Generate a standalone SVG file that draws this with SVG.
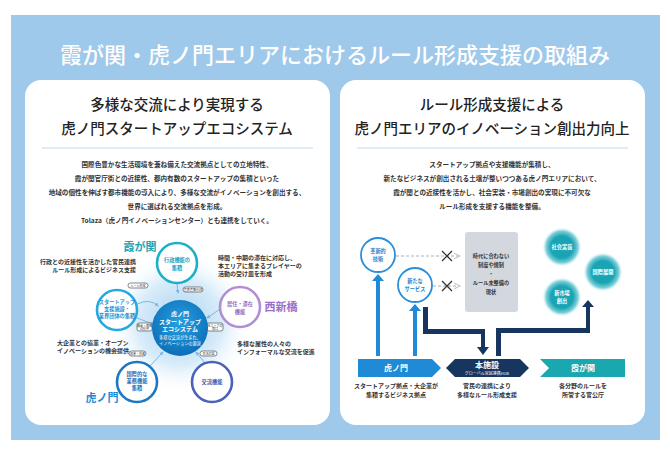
<svg xmlns="http://www.w3.org/2000/svg" width="670" height="450" viewBox="0 0 670 450">
<defs>
<style>
text{font-family:"Noto Sans CJK JP","Noto Sans",sans-serif;}
.sub{font-size:14.5px;fill:#222;text-anchor:middle;font-weight:500}
.body{font-size:6.6px;fill:#333;text-anchor:middle;font-weight:700}
.sm{font-size:6px;fill:#333;font-weight:700}
.tag{fill:#fff;stroke:#555;stroke-width:0.7}
.tt{font-size:3px;fill:#333;text-anchor:middle}
.ct{font-size:6px;text-anchor:middle;font-weight:700}
.st{font-size:5.2px;text-anchor:middle;font-weight:700}
.sat{fill:#fff;stroke-width:2.6}
</style>
<radialGradient id="glow" cx="0.5" cy="0.5" r="0.5">
<stop offset="0" stop-color="#a9d3f0"/><stop offset="0.6" stop-color="#d9ecfa"/><stop offset="1" stop-color="#fff" stop-opacity="0"/>
</radialGradient>
<radialGradient id="teal" cx="0.5" cy="0.5" r="0.5">
<stop offset="0" stop-color="#1aa6b5"/><stop offset="0.55" stop-color="#19a3b3"/><stop offset="0.8" stop-color="#7fd0da"/><stop offset="1" stop-color="#fff" stop-opacity="0"/>
</radialGradient>
<radialGradient id="cen" cx="0.5" cy="0.4" r="0.6">
<stop offset="0" stop-color="#2a9fe0"/><stop offset="1" stop-color="#0a6fb8"/>
</radialGradient>
<marker id="ah" viewBox="0 0 10 10" refX="8" refY="5" markerWidth="4" markerHeight="4" orient="auto"><path d="M0,0L10,5L0,10z" fill="#7ab8e6"/></marker>
<marker id="ahg" viewBox="0 0 10 10" refX="8" refY="5" markerWidth="5" markerHeight="5" orient="auto"><path d="M0,1L8,5L0,9" fill="none" stroke="#c8ccd2" stroke-width="1.5"/></marker>
</defs>
<rect x="11" y="15" width="649" height="425" fill="#9fc9ea"/>
<text x="335" y="63" font-size="22" fill="#fff" text-anchor="middle" font-weight="500">霞が関・虎ノ門エリアにおけるルール形成支援の取組み</text>
<rect x="25" y="80" width="305" height="345" rx="16" fill="#fff"/>
<rect x="340" y="80" width="305" height="345" rx="16" fill="#fff"/>
<g id="left-head">
<text class="sub" x="177" y="110">多様な交流により実現する</text>
<text class="sub" x="177" y="134">虎ノ門スタートアップエコシステム</text>
<line x1="42" y1="148" x2="313" y2="148" stroke="#bcd9f0" stroke-width="1"/>
<text class="body" x="177" y="167">国際色豊かな生活環境を兼ね備えた交流拠点としての立地特性、</text>
<text class="body" x="177" y="181">霞が関官庁街との近接性、都内有数のスタートアップの集積といった</text>
<text class="body" x="177" y="195">地域の個性を伸ばす都市機能の導入により、多様な交流がイノベーションを創出する、</text>
<text class="body" x="177" y="209">世界に選ばれる交流拠点を形成。</text>
<text class="body" x="177" y="223">Tolaza（虎ノ門イノベーションセンター）とも連携をしていく。</text>
</g>
<g id="right-head">
<text class="sub" x="492" y="110">ルール形成支援による</text>
<text class="sub" x="492" y="134">虎ノ門エリアのイノベーション創出力向上</text>
<line x1="357" y1="148" x2="628" y2="148" stroke="#bcd9f0" stroke-width="1"/>
<text class="body" x="492" y="167">スタートアップ拠点や支援機能が集積し、</text>
<text class="body" x="492" y="181">新たなビジネスが創出される土壌が整いつつある虎ノ門エリアにおいて、</text>
<text class="body" x="492" y="195">霞が関との近接性を活かし、社会実装・市場創出の実現に不可欠な</text>
<text class="body" x="492" y="209">ルール形成を支援する機能を整備。</text>
</g>
<circle cx="180" cy="322" r="72" fill="url(#glow)"/>
<g id="left-connectors" stroke="#7ab8e6" stroke-width="1" fill="none" marker-end="url(#ah)">
<path d="M177,284L178,293"/>
<path d="M137,304Q150,298 158,306"/>
<path d="M137,318L153,324"/>
<path d="M220,309L207,318"/>
<path d="M150,366L163,352"/>
<path d="M205,363L196,352"/>
</g>
<g id="tags">
<rect class="tag" x="128" y="283" width="20" height="5" rx="2.5"/><text class="tt" x="138" y="286.6">ルール形成</text>
<rect class="tag" x="183" y="287" width="20" height="5" rx="2.5"/><text class="tt" x="193" y="290.6">官民連携HUB</text>
<rect class="tag" x="137" y="323" width="15" height="8" rx="2"/><text class="tt" x="144.5" y="326.5">資金・情報</text><text class="tt" x="144.5" y="329.5">の提供</text>
<rect class="tag" x="207" y="323" width="16" height="8" rx="2"/><text class="tt" x="215" y="326.5">本エリアの</text><text class="tt" x="215" y="329.5">窓口</text>
<rect class="tag" x="129" y="351" width="17" height="5" rx="2.5"/><text class="tt" x="137.5" y="354.6">協業・投資</text>
<rect class="tag" x="200" y="351" width="17" height="5" rx="2.5"/><text class="tt" x="208.5" y="354.6">交流の場</text>
</g>
<g id="center">
<circle cx="180" cy="328" r="28" fill="url(#cen)"/>
<text class="ct" x="180" y="316" fill="#fff">虎ノ門</text>
<text class="ct" x="180" y="323.5" fill="#fff">スタートアップ</text>
<text class="ct" x="180" y="331" fill="#fff">エコシステム</text>
<text x="180" y="339" font-size="4.2" fill="#fff" text-anchor="middle">多様な交流が生まれ、</text>
<text x="180" y="345" font-size="4.2" fill="#fff" text-anchor="middle">イノベーションの源泉</text>
</g>
<g id="n-gyosei"><circle class="sat" cx="177" cy="263" r="20" stroke="#1cb0c8"/><text class="st" x="177" y="262" fill="#1a9fc0">行政機能の</text><text class="st" x="177" y="270" fill="#1a9fc0">集積</text></g>
<g id="n-startup"><circle class="sat" cx="117" cy="310" r="20" stroke="#26a9e0"/><text class="st" x="117" y="304" fill="#1b8fd0">スタートアップ</text><text class="st" x="117" y="311" fill="#1b8fd0">支援施設・</text><text class="st" x="117" y="318" fill="#1b8fd0">業界団体の集積</text></g>
<g id="n-kyoju"><circle class="sat" cx="240" cy="307" r="20" stroke="#b08ed6"/><text class="st" x="240" y="306" fill="#8a6cc2">居住・滞在</text><text class="st" x="240" y="314" fill="#8a6cc2">機能</text></g>
<g id="n-kokusai"><circle class="sat" cx="137" cy="382" r="20" stroke="#1a78c4"/><text class="st" x="137" y="376" fill="#1a6fba">国際的な</text><text class="st" x="137" y="383" fill="#1a6fba">業務機能</text><text class="st" x="137" y="390" fill="#1a6fba">集積</text></g>
<g id="n-koryu"><circle class="sat" cx="212" cy="382" r="20" stroke="#4a62b8"/><text class="st" x="212" y="384" fill="#3c56ad">交流機能</text></g>
<text x="140" y="251" font-size="11" font-weight="700" fill="#1aa6b5" text-anchor="middle">霞が関</text>
<text x="281" y="311" font-size="11" font-weight="700" fill="#9b6fc9" text-anchor="middle">西新橋</text>
<text x="102" y="402" font-size="11" font-weight="700" fill="#1a8ad8" text-anchor="middle">虎ノ門</text>
<text class="sm" x="136" y="264" text-anchor="end">行政との近接性を活かした官民連携</text>
<text class="sm" x="136" y="272" text-anchor="end">ルール形成によるビジネス支援</text>
<text class="sm" x="218" y="260">時間・中期の滞在に対応し、</text>
<text class="sm" x="218" y="268">本エリアに集まるプレイヤーの</text>
<text class="sm" x="218" y="276">活動の受け皿を形成</text>
<text class="sm" x="57" y="345">大企業との協業・オープン</text>
<text class="sm" x="57" y="353">イノベーションの機会提供</text>
<text class="sm" x="237" y="346">多様な属性の人々の</text>
<text class="sm" x="237" y="354">インフォーマルな交流を促進</text>
<g id="right-connectors">
<line x1="396" y1="256" x2="460" y2="256" stroke="#c8ccd2" stroke-width="1.5" stroke-dasharray="3,2" marker-end="url(#ahg)"/>
<line x1="433" y1="286" x2="460" y2="286" stroke="#c8ccd2" stroke-width="1.5" stroke-dasharray="3,2" marker-end="url(#ahg)"/>
<path d="M442,251l10,10M452,251l-10,10M442,281l10,10M452,281l-10,10" stroke="#333" stroke-width="1.3"/>
<path d="M376,356V281h-4l6,-7 6,7h-4V356z" fill="#1f8ad6"/>
<path d="M413,356V311h-4l6,-7 6,7h-4V356z" fill="#1f8ad6"/>
<path d="M423,307V334H481V347h-4l6,8 6,-8h-4V329H428V307z" fill="#17365f"/>
<path d="M496,356V328H586V307h-4l6,-7 6,7h-4V333H501V356z" fill="#17365f"/>
</g>
<g id="r-kakushin"><circle cx="378" cy="255" r="17" fill="#fff" stroke="#2a8fd8" stroke-width="1.8"/><text class="st" x="378" y="253" fill="#1f7dc6">革新的</text><text class="st" x="378" y="261" fill="#1f7dc6">技術</text></g>
<g id="r-service"><circle cx="415" cy="285" r="17" fill="#fff" stroke="#2a8fd8" stroke-width="1.8"/><text class="st" x="415" y="283" fill="#1f7dc6">新たな</text><text class="st" x="415" y="291" fill="#1f7dc6">サービス</text></g>
<g id="r-box"><rect x="465" y="232" width="53" height="80" rx="3" fill="#d3d8de"/>
<text class="st" x="491" y="258" fill="#333">時代に合わない</text><text class="st" x="491" y="267" fill="#333">制度や規制</text><text class="st" x="491" y="276" fill="#333">・</text><text class="st" x="491" y="285" fill="#333">ルール未整備の</text><text class="st" x="491" y="294" fill="#333">現状</text></g>
<g id="r-shakai"><circle cx="562" cy="247" r="20" fill="url(#teal)"/><text class="st" x="562" y="249" fill="#fff">社会実装</text></g>
<g id="r-kokusai"><circle cx="603" cy="272" r="20" fill="url(#teal)"/><text class="st" x="603" y="274" fill="#fff">国際展開</text></g>
<g id="r-shijo"><circle cx="562" cy="297" r="20" fill="url(#teal)"/><text class="st" x="562" y="295" fill="#fff">新市場</text><text class="st" x="562" y="303" fill="#fff">創出</text></g>
<g id="b-toranomon"><path d="M358,359H432L441,368L432,377H358z" fill="#1f8ad6"/><text x="396" y="371" font-size="8" font-weight="700" fill="#fff" text-anchor="middle">虎ノ門</text>
<text class="sm" x="396" y="388" text-anchor="middle">スタートアップ拠点・大企業が</text><text class="sm" x="396" y="397" text-anchor="middle">集積するビジネス拠点</text></g>
<g id="b-honshisetsu"><path d="M455,359H520L529,368L520,377H455L446,368z" fill="#17365f"/><text x="487" y="368" font-size="8" font-weight="700" fill="#fff" text-anchor="middle">本施設</text><text x="487" y="375" font-size="4" fill="#fff" text-anchor="middle">グローバル官民連携HUB</text>
<text class="sm" x="487" y="388" text-anchor="middle">官民の連携により</text><text class="sm" x="487" y="397" text-anchor="middle">多様なルール形成支援</text></g>
<g id="b-kasumigaseki"><path d="M540,359H625V377H540L549,368z" fill="#19a8b0"/><text x="583" y="371" font-size="8" font-weight="700" fill="#fff" text-anchor="middle">霞が関</text>
<text class="sm" x="583" y="388" text-anchor="middle">各分野のルールを</text><text class="sm" x="583" y="397" text-anchor="middle">所管する官公庁</text></g>
</svg>
